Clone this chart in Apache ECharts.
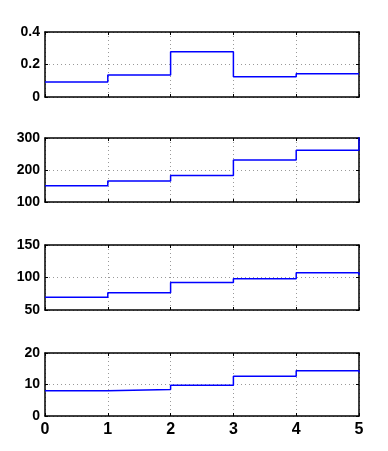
<!DOCTYPE html>
<html>
<head>
<meta charset="utf-8">
<script src="https://cdn.jsdelivr.net/npm/echarts@6/dist/echarts.min.js"></script>
<style>
  html, body { margin: 0; padding: 0; background: #fff; }
  #chart { width: 388px; height: 451px; }
</style>
</head>
<body>
<div id="chart"></div>
<script>
// stairs data, x = 0..5, the last value only draws the riser at x = 5
var xValues = [0, 1, 2, 3, 4, 5];
var series1 = [0.093, 0.135, 0.278, 0.124, 0.143, 0.14];
var series2 = [151, 166, 183, 231, 262, 310];
var series3 = [69.5, 76.5, 92.5, 98, 107.5, 104];
var series4 = [8.0, 8.4, 9.8, 12.6, 14.4, 13.8];

// y axis ranges / ticks per panel
var yMins = [0, 100, 50, 0];
var yMaxs = [0.4, 300, 150, 20];
var yIntervals = [0.2, 100, 50, 10];
var xTickLabels = ['0', '1', '2', '3', '4', '5'];

var allSeries = [series1, series2, series3, series4];
var gridTops = [32, 138, 245, 353];
var gridHeights = [65, 64, 65, 63];

var chart = echarts.init(document.getElementById('chart'));

var grids = [], xAxes = [], yAxes = [], lines = [];
var black = '#000';
var dotted = { show: true, lineStyle: { color: '#999', type: [1, 3], width: 1 } };

for (var i = 0; i < 4; i++) {
  grids.push({ left: 45, width: 314, top: gridTops[i], height: gridHeights[i] });

  var isLast = (i === 3);
  // bottom x axis
  xAxes.push({
    type: 'value', gridIndex: i, position: 'bottom', min: 0, max: 5, interval: 1,
    axisLine: { show: true, lineStyle: { color: black, width: 1.5 } },
    axisTick: { show: true, inside: true, length: 3, lineStyle: { color: black } },
    axisLabel: {
      show: isLast, color: black, fontWeight: 'bold', fontSize: 16,
      fontFamily: 'Liberation Sans', margin: 6,
      formatter: function (v) { return xTickLabels[v]; }
    },
    splitLine: dotted
  });
  // top x axis (box edge)
  xAxes.push({
    type: 'value', gridIndex: i, position: 'top', min: 0, max: 5, interval: 1,
    axisLine: { show: true, onZero: false, lineStyle: { color: black, width: 1.5 } },
    axisTick: { show: true, inside: true, length: 3, lineStyle: { color: black } },
    axisLabel: { show: false },
    splitLine: { show: false }
  });
  // left y axis
  yAxes.push({
    type: 'value', gridIndex: i, position: 'left',
    min: yMins[i], max: yMaxs[i], interval: yIntervals[i],
    axisLine: { show: true, onZero: false, lineStyle: { color: black, width: 1.5 } },
    axisTick: { show: true, inside: true, length: 3, lineStyle: { color: black } },
    axisLabel: {
      color: black, fontWeight: 'bold', fontSize: 14,
      fontFamily: 'Liberation Sans', margin: 5
    },
    splitLine: dotted
  });
  // right y axis (box edge)
  yAxes.push({
    type: 'value', gridIndex: i, position: 'right',
    min: yMins[i], max: yMaxs[i], interval: yIntervals[i],
    axisLine: { show: true, onZero: false, lineStyle: { color: black, width: 1.5 } },
    axisTick: { show: true, inside: true, length: 3, lineStyle: { color: black } },
    axisLabel: { show: false },
    splitLine: { show: false }
  });

  lines.push({
    type: 'line', step: 'end',
    xAxisIndex: i * 2, yAxisIndex: i * 2,
    data: xValues.map(function (x, k) { return [x, allSeries[i][k]]; }),
    showSymbol: false, clip: true, silent: true, animation: false,
    lineStyle: { color: '#0000ff', width: 1.5 }
  });
}

var option = {
  backgroundColor: '#fff',
  animation: false,
  grid: grids,
  xAxis: xAxes,
  yAxis: yAxes,
  series: lines
};

chart.setOption(option);
</script>
</body>
</html>
